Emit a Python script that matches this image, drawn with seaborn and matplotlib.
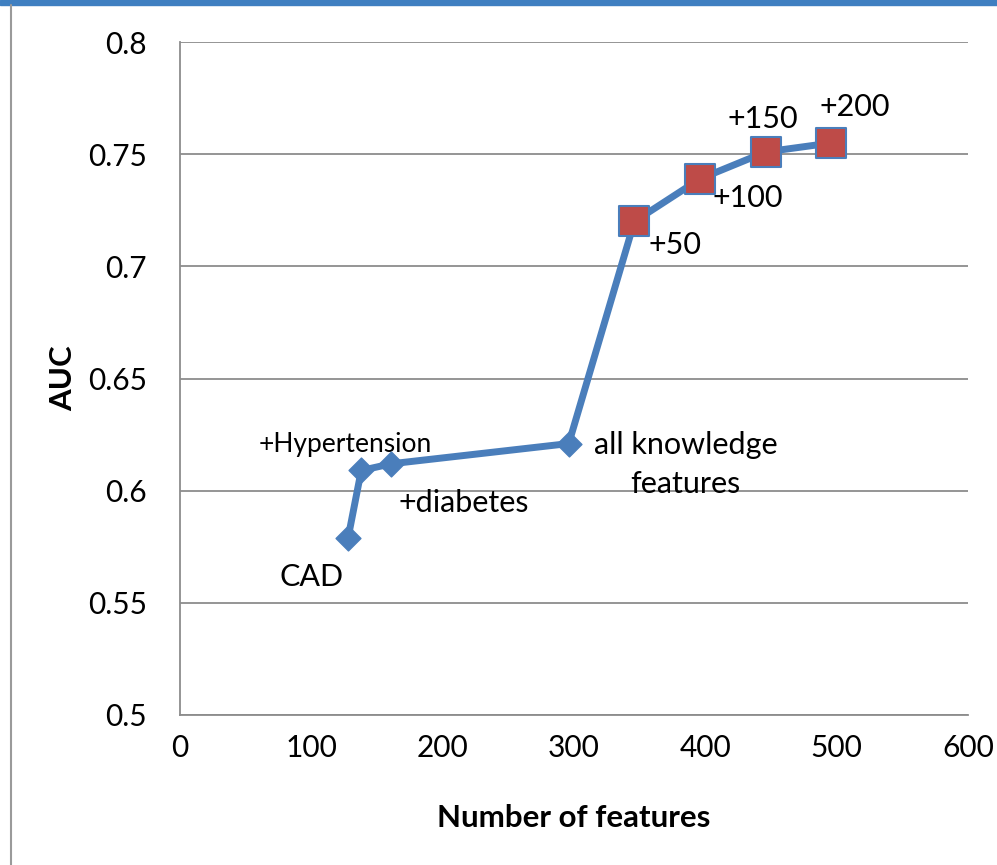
import matplotlib
matplotlib.use("Agg")
import matplotlib.pyplot as plt
import seaborn as sns
import pandas as pd
from matplotlib.patches import Rectangle
from matplotlib.lines import Line2D

# Feature-set sizes and AUC
features = [128, 138, 161, 296, 346, 396, 446, 496]
auc = [0.579, 0.609, 0.612, 0.621, 0.720, 0.739, 0.751, 0.755]
labels = ["CAD", "+Hypertension", "+diabetes", "all knowledge\nfeatures",
          "+50", "+100", "+150", "+200"]
stage = ["knowledge"] * 4 + ["added"] * 4

df = pd.DataFrame({"features": features, "auc": auc, "stage": stage})

sns.set_theme(style="white")
plt.rcParams["font.family"] = ["Lato", "DejaVu Sans"]
plt.rcParams["text.color"] = "black"
plt.rcParams["axes.labelcolor"] = "black"

fig = plt.figure(figsize=(9.97, 8.65), dpi=100)
ax = fig.add_axes([180 / 997, 1 - 715 / 865, (968 - 180) / 997, (715 - 42) / 865])

line_color = "#4A7EBB"
sns.lineplot(data=df, x="features", y="auc", ax=ax, color=line_color,
             linewidth=5, zorder=3, legend=False)

know = df[df.stage == "knowledge"]
added = df[df.stage == "added"]
sns.scatterplot(data=know, x="features", y="auc", ax=ax, marker="D", s=160,
                color=line_color, edgecolor=line_color, linewidth=1, zorder=4, legend=False)
sns.scatterplot(data=added, x="features", y="auc", ax=ax, marker="s", s=480,
                color="#BE4B48", edgecolor=line_color, linewidth=1.5, zorder=4, legend=False)

ax.set_xlim(0, 600)
ax.set_ylim(0.5, 0.8)
ax.set_xticks(range(0, 601, 100))
ax.set_yticks([0.5, 0.55, 0.6, 0.65, 0.7, 0.75, 0.8])
ax.set_yticklabels(["0.5", "0.55", "0.6", "0.65", "0.7", "0.75", "0.8"])
ax.tick_params(axis="both", labelsize=21.5, length=0, colors="black")
ax.tick_params(axis="x", pad=14)
ax.tick_params(axis="y", pad=24)
ax.yaxis.grid(True, color="#8C8C8C", linewidth=1.3)
ax.xaxis.grid(False)
for side in ["top", "right"]:
    ax.spines[side].set_visible(False)
for side in ["left", "bottom"]:
    ax.spines[side].set_color("#8C8C8C")
    ax.spines[side].set_linewidth(1.3)

ax.set_xlabel("Number of features", fontsize=22.5, fontweight="bold", color="black")
ax.set_ylabel("AUC", fontsize=22.5, fontweight="bold", color="black")
ax.xaxis.set_label_coords(0.5, -0.132)
ax.yaxis.set_label_coords(-0.131, 0.5)

# Point annotations (offsets in points)
offsets = [(-26, -28), (-11.5, 19), (52, -28), (84, -15), (29, -17), (34, -14), (-2, 24), (17, 26)]
sizes = [22, 19, 22, 22, 22, 22, 22, 22]
for x, y, lab, off, fs in zip(features, auc, labels, offsets, sizes):
    ax.annotate(lab, (x, y), xytext=off, textcoords="offset points",
                ha="center", va="center", fontsize=fs, color="black",
                linespacing=1.45)

# Outer frame: blue band on top and thin gray border on the left
fig.patches.append(Rectangle((0, 1 - 5 / 865), 1, 5 / 865, transform=fig.transFigure,
                             color="#3F7FC1", zorder=0))
fig.lines.append(Line2D([11 / 997, 11 / 997], [0, 1 - 5 / 865], transform=fig.transFigure,
                        color="#9A9A9A", linewidth=1.5))

fig.savefig("out.png", dpi=100)
